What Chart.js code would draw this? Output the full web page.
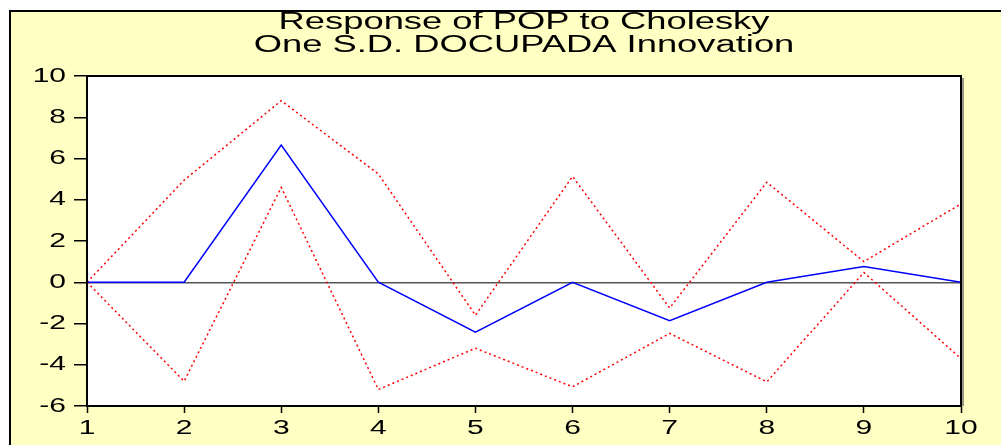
<!DOCTYPE html>
<html>
<head>
<meta charset="utf-8">
<script src="https://cdn.jsdelivr.net/npm/chart.js@4"></script>
<style>
  html, body { margin: 0; padding: 0; background: #fff; }
  canvas { display: block; }
</style>
</head>
<body>
<canvas id="irf" width="1001" height="445"></canvas>
<script>
// periods after the shock
const periods = ['1', '2', '3', '4', '5', '6', '7', '8', '9', '10'];
// response of POP to a DOCUPADA shock
const response = [0, 0, 6.65, 0, -2.42, 0, -1.86, 0, 0.76, 0];
// +/- 2 S.E. bands
const upperBand = [0, 4.95, 8.8, 5.25, -1.6, 5.13, -1.25, 4.85, 1.0, 3.8];
const lowerBand = [0, -4.8, 4.6, -5.2, -3.2, -5.07, -2.48, -4.83, 0.47, -3.7];
const yTicks = [-6, -4, -2, 0, 2, 4, 6, 8, 10];
const titleLines = ['Response of POP to Cholesky', 'One S.D. DOCUPADA Innovation'];

const FONT = 'Liberation Sans, Arial, sans-serif';
let textStretch = 1.5; // the original picture is stretched wide

// text in the source image is horizontally stretched, so widen every glyph
const stretchPlugin = {
    id: 'stretch',
    beforeInit(chart) {
        const c = chart.ctx;
        const orig = c.fillText;
        c.fillText = function (t, x, y) {
            this.save();
            this.translate(x, y);
            this.scale(textStretch, 1);
            orig.call(this, t, 0, 0);
            this.restore();
        };
    }
};

// yellow eviews-style frame + white plot area + centred title
const framePlugin = {
    id: 'frame',
    beforeDraw(chart) {
        const c = chart.ctx;
        const a = chart.chartArea;
        c.save();
        c.fillStyle = '#fff';
        c.fillRect(0, 0, chart.width, chart.height);
        c.fillStyle = '#FFFFC4';
        c.fillRect(10, 11, chart.width - 10, chart.height - 11);
        c.strokeStyle = '#000';
        c.lineWidth = 2;
        c.beginPath();
        c.moveTo(10, chart.height);
        c.lineTo(10, 11);
        c.lineTo(chart.width, 11);
        c.stroke();
        c.fillStyle = '#fff';
        c.fillRect(a.left, a.top, a.right - a.left, a.bottom - a.top);
        c.restore();
    },
    afterDraw(chart) {
        const c = chart.ctx;
        const a = chart.chartArea;
        c.save();
        c.strokeStyle = '#000';
        c.lineWidth = 2;
        c.strokeRect(a.left, a.top, a.right - a.left, a.bottom - a.top);
        c.lineWidth = 1.5;
        c.strokeStyle = '#777';
        c.beginPath();
        c.moveTo(a.right + 2, a.top + 2);
        c.lineTo(a.right + 2, a.bottom);
        c.stroke();

        c.fillStyle = '#000';
        c.font = '23px ' + FONT;
        c.textAlign = 'center';
        c.textBaseline = 'alphabetic';
        const cx = (a.left + a.right) / 2;
        const saved = textStretch;
        textStretch = 1.58;
        titleLines.forEach((line, i) => c.fillText(line, cx, 29 + i * 23));
        textStretch = saved;
        c.restore();
    }
};

new Chart(document.getElementById('irf'), {
    type: 'line',
    data: {
        labels: periods,
        datasets: [
            {
                data: response,
                borderColor: '#0000ff',
                borderWidth: 1.5,
                pointRadius: 0,
                tension: 0
            },
            {
                data: upperBand,
                borderColor: '#ff0000',
                borderWidth: 1.5,
                borderDash: [2, 3],
                pointRadius: 0,
                tension: 0
            },
            {
                data: lowerBand,
                borderColor: '#ff0000',
                borderWidth: 1.5,
                borderDash: [2, 3],
                pointRadius: 0,
                tension: 0
            }
        ]
    },
    options: {
        responsive: false,
        animation: false,
        layout: { padding: { top: 76, left: 0, right: 40, bottom: 0 } },
        plugins: {
            legend: { display: false },
            tooltip: { enabled: false },
            title: { display: false }
        },
        scales: {
            x: {
                offset: false,
                grid: {
                    drawOnChartArea: false,
                    tickLength: 7,
                    tickColor: '#000',
                    tickWidth: 1.5
                },
                border: { display: false },
                ticks: {
                    color: '#000',
                    font: { family: FONT, size: 20 },
                    padding: 3,
                    maxRotation: 0,
                    autoSkip: false
                },
                afterFit(scale) { scale.height = 39; }
            },
            y: {
                min: -6,
                max: 10,
                afterBuildTicks(scale) {
                    scale.ticks = yTicks.map(v => ({ value: v }));
                },
                grid: {
                    color: ctx => (ctx.tick && ctx.tick.value === 0 ? '#555' : 'rgba(0,0,0,0)'),
                    lineWidth: 1.5,
                    tickLength: 13,
                    tickColor: '#000',
                    tickWidth: 1.5
                },
                border: { display: false },
                ticks: {
                    color: '#000',
                    font: { family: FONT, size: 20 },
                    padding: 8
                },
                afterFit(scale) { scale.width = 87; }
            }
        }
    },
    plugins: [stretchPlugin, framePlugin]
});
</script>
</body>
</html>
